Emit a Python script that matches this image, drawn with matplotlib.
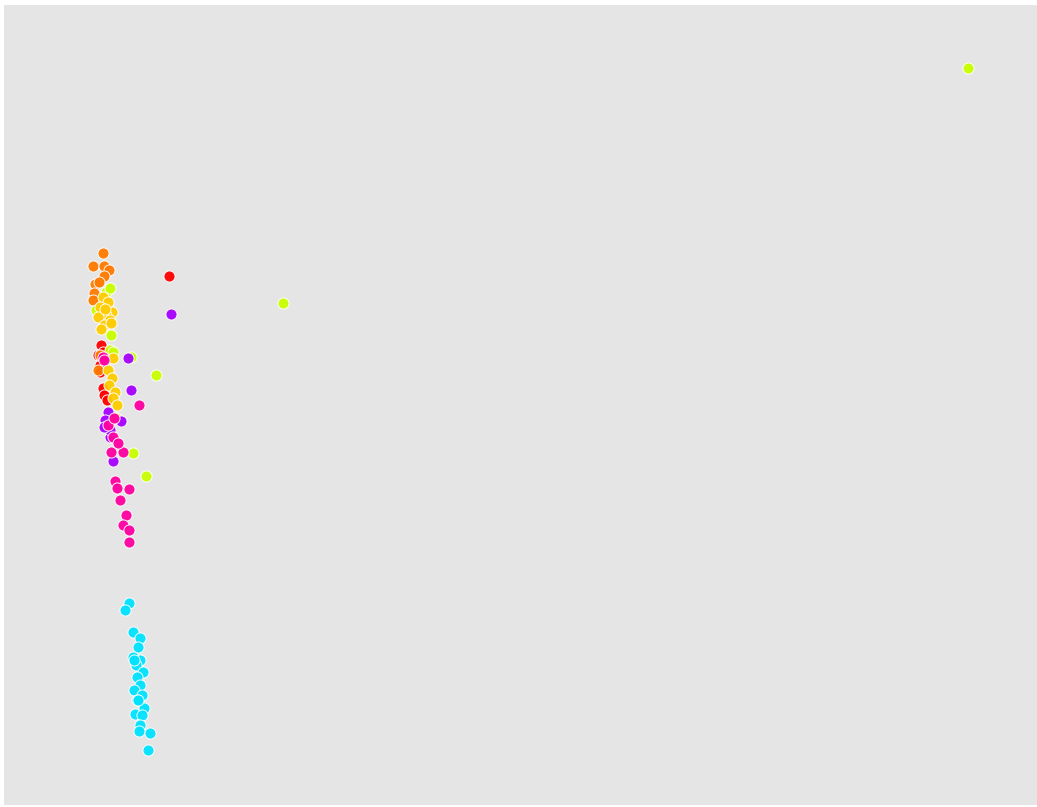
import matplotlib
matplotlib.use("Agg")
import matplotlib.pyplot as plt

# Two-dimensional embedding coordinates, one group per colour
red_x = [169, 101, 103, 100, 100, 103, 104, 107, 98]
red_y = [531, 462, 455, 442, 435, 419, 412, 407, 452]

orange_x = [103, 93, 104, 109, 104, 95, 99, 94, 93, 100, 98]
orange_y = [554, 541, 541, 537, 531, 523, 525, 514, 507, 452, 437]

gold_x = [103, 108, 100, 112, 106, 98, 110, 104, 101, 113, 108, 112, 109, 115, 113, 117, 116, 105, 111]
gold_y = [510, 505, 500, 495, 492, 490, 487, 482, 478, 449, 437, 429, 422, 415, 409, 402, 389, 498, 484]

lime_x = [968, 283, 131, 156, 133, 146, 106, 110, 96, 111, 110, 113]
lime_y = [739, 504, 450, 432, 354, 331, 515, 519, 497, 472, 457, 455]

purple_x = [171, 131, 108, 105, 110, 113, 121, 128, 110, 104]
purple_y = [493, 417, 395, 387, 370, 346, 386, 449, 377, 380]

magenta_x = [139, 103, 108, 113, 111, 123, 115, 117, 129, 120, 126, 123, 129, 129, 114, 118, 104]
magenta_y = [402, 450, 382, 370, 355, 355, 326, 319, 318, 307, 292, 282, 277, 265, 389, 364, 447]

cyan_x = [129, 125, 133, 140, 138, 133, 140, 136, 143, 137, 140, 134, 142, 137, 144,
          135, 142, 140, 139, 150, 148, 138, 134]
cyan_y = [204, 197, 175, 169, 160, 150, 147, 142, 135, 130, 122, 117, 112, 107, 99,
          93, 92, 82, 76, 74, 57, 107, 147]

groups = [
    (red_x, red_y, "#ff0000"),
    (orange_x, orange_y, "#ff7a00"),
    (lime_x, lime_y, "#c8ff00"),
    (gold_x, gold_y, "#ffcc00"),
    (purple_x, purple_y, "#a600ff"),
    (magenta_x, magenta_y, "#ff00a0"),
    (cyan_x, cyan_y, "#00e1ff"),
]

fig = plt.figure(figsize=(10.37, 8.07), dpi=100)
ax = fig.add_axes([4 / 1037, 2 / 807, 1 - 4 / 1037, 1 - 7 / 807])
ax.set_facecolor("#e5e5e5")

for xs, ys, col in groups:
    ax.scatter(xs, ys, s=64, c=col, edgecolors="white", linewidths=0.7,
               alpha=0.95, zorder=3)

ax.set_xlim(4, 1037)
ax.set_ylim(2, 802)
ax.set_xticks([])
ax.set_yticks([])
for sp in ax.spines.values():
    sp.set_visible(False)

fig.savefig("out.png", dpi=100, facecolor="white")
